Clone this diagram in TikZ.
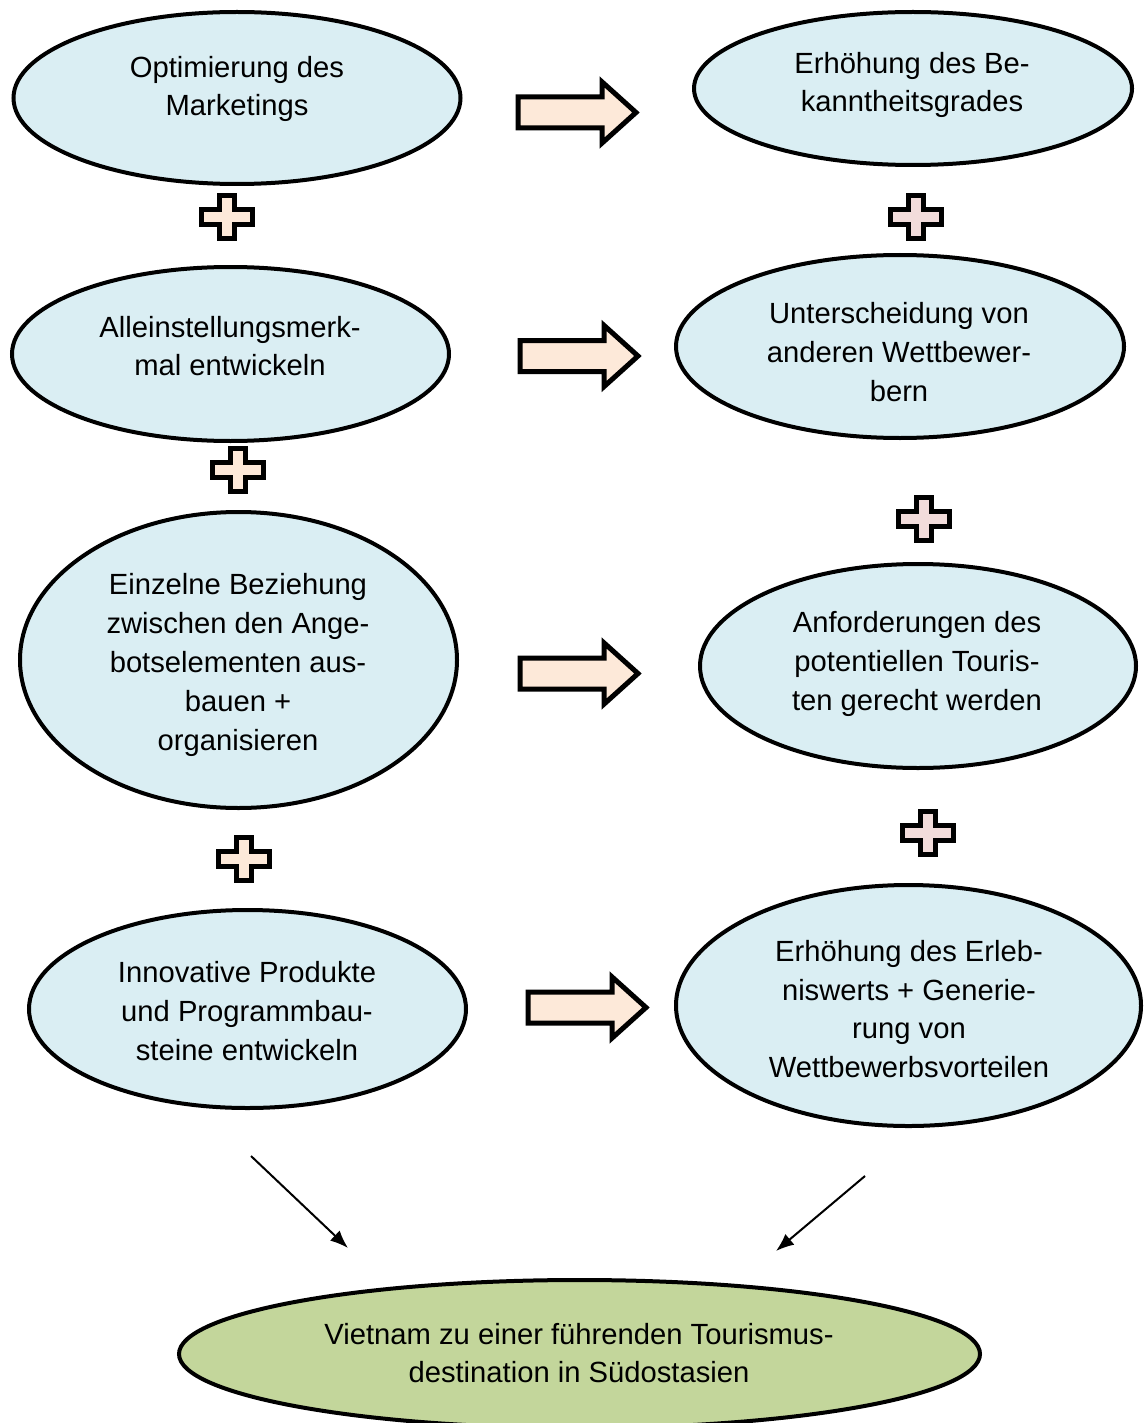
\documentclass[tikz,border=0pt]{standalone}
\usepackage{fontspec}
\setmainfont{Liberation Sans}
\usetikzlibrary{arrows.meta,shapes.geometric,shapes.arrows}
\definecolor{skyfill}{HTML}{DAEEF3}
\definecolor{peach}{HTML}{FDE9D9}
\definecolor{rosefill}{HTML}{F2DCDB}
\definecolor{goalgreen}{HTML}{C3D69B}
\begin{document}
\begin{tikzpicture}[x=1pt, y=-1pt,
        goal/.style={draw, ellipse, line width=4pt, fill=skyfill, inner sep=0pt},
        txt/.style={align=center, font=\fontsize{29.2}{38.8}\selectfont, inner sep=0pt},
        blockarrow/.style={single arrow, draw, line width=5pt, fill=peach, anchor=tail,
            minimum height=118pt, minimum width=56pt, inner xsep=0pt, inner ysep=13pt,
            single arrow head extend=15pt, single arrow tip angle=84},
        thin/.style={-{Latex[length=18pt,width=14pt]}, line width=2pt},
        pics/plussign/.style={code={
            \draw[line width=5pt, fill=#1] (-7.5,-21.5) -- (7.5,-21.5) -- (7.5,-7.5) -- (25.5,-7.5)
                -- (25.5,7.5) -- (7.5,7.5) -- (7.5,21.5) -- (-7.5,21.5) -- (-7.5,7.5)
                -- (-25.5,7.5) -- (-25.5,-7.5) -- (-7.5,-7.5) -- cycle;}}
    ]
    \useasboundingbox (0,0) rectangle (1144,1423);

    % left column
    \node[goal, minimum width=447pt, minimum height=172pt] (opt) at (237,98) {};
    \node[txt] (opttxt) at (237,89) {Optimierung des\\Marketings};
    \node[goal, minimum width=437pt, minimum height=174pt] (usp) at (230.5,354) {};
    \node[txt] (usptxt) at (230,346) {Alleinstellungsmerk-\\mal entwickeln};
    \node[goal, minimum width=437pt, minimum height=296pt] (bez) at (238.5,660) {};
    \node[txt] (beztxt) at (238,665) {Einzelne Beziehung\\zwischen den Ange-\\botselementen aus-\\bauen +\\organisieren};
    \node[goal, minimum width=437pt, minimum height=198pt] (inn) at (247.5,1009) {};
    \node[txt] (inntxt) at (247,1011) {Innovative Produkte\\und Programmbau-\\steine entwickeln};

    % right column
    \node[goal, minimum width=438pt, minimum height=153pt] (bek) at (913,88.5) {};
    \node[txt] (bektxt) at (912,85) {Erhöhung des Be-\\kanntheitsgrades};
    \node[goal, minimum width=448pt, minimum height=183pt] (unt) at (900,346.5) {};
    \node[txt] (unttxt) at (899,352) {Unterscheidung von\\anderen Wettbewer-\\bern};
    \node[goal, minimum width=436pt, minimum height=204pt] (anf) at (918,666) {};
    \node[txt] (anftxt) at (917,664) {Anforderungen des\\potentiellen Touris-\\ten gerecht werden};
    \node[goal, minimum width=465pt, minimum height=241pt] (erl) at (908.5,1005.5) {};
    \node[txt] (erltxt) at (909,1009) {Erhöhung des Erleb-\\niswerts + Generie-\\rung von\\Wettbewerbsvorteilen};

    % goal at the bottom
    \node[goal, fill=goalgreen, minimum width=801pt, minimum height=148pt] (viet) at (579.5,1354) {};
    \node[txt] (viettxt) at (579,1353) {Vietnam zu einer führenden Tourismus-\\destination in Südostasien};

    % block arrows
    \node[blockarrow] (a1) at (515.5,112.5) {};
    \node[blockarrow] (a2) at (517.5,356) {};
    \node[blockarrow] (a3) at (517.5,673.5) {};
    \node[blockarrow] (a4) at (525.5,1007.5) {};

    % plus signs
    \pic at (227,217) {plussign=peach};
    \pic at (238,470) {plussign=peach};
    \pic at (244,859) {plussign=peach};
    \pic at (916,217) {plussign=rosefill};
    \pic at (924,519) {plussign=rosefill};
    \pic at (928,833) {plussign=rosefill};

    % thin arrows
    \coordinate (s1) at (251,1156);
    \coordinate (e1) at (348,1248);
    \coordinate (s2) at (865,1176);
    \coordinate (e2) at (776,1251);
    \draw[thin] (s1) -- (e1);
    \draw[thin] (s2) -- (e2);
\end{tikzpicture}
\end{document}
